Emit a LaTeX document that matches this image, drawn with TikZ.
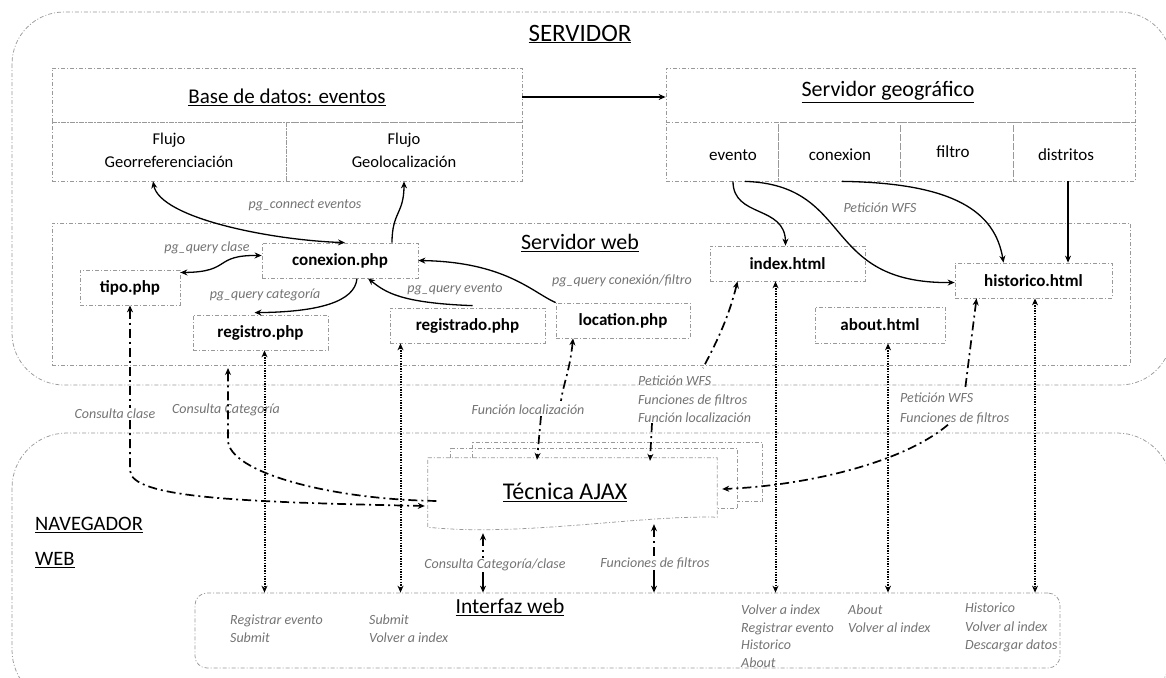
\documentclass[tikz,border=0pt]{standalone}
\usepackage{fontspec}
\setmainfont{Carlito}
\usetikzlibrary{arrows.meta}
\definecolor{framegray}{HTML}{999999}
\definecolor{notegray}{HTML}{737373}
\begin{document}
\begin{tikzpicture}[x=1pt,y=-1pt,
  >={Stealth[length=7pt,width=6pt]},
  frame/.style={draw=framegray,line width=0.75pt,dash pattern=on 4pt off 2pt on 1pt off 2pt},
  cellbox/.style={frame,inner sep=0pt},
  filebox/.style={frame,inner sep=0pt,minimum height=35pt,font=\fontsize{17}{20}\selectfont\bfseries},
  heading/.style={inner sep=1pt,font=\fontsize{22}{26}\selectfont},
  celltext/.style={inner sep=0pt,align=center,font=\fontsize{16.5}{23}\selectfont},
  note/.style={inner sep=1pt,text=notegray,font=\fontsize{14}{18}\selectfont\itshape},
  notes/.style={note,align=left,anchor=north west,inner sep=0pt},
  flow/.style={line width=1.3pt},
  call/.style={line width=1.7pt,dash pattern=on 9pt off 4pt on 2pt off 4pt},
  link/.style={line width=2pt,dash pattern=on 1.4pt off 1.2pt}
]
\useasboundingbox (0,0) rectangle (1166,677);

% outer zones
\draw[frame,rounded corners=52pt] (12,12) rectangle (1172,385);
\draw[frame,rounded corners=55pt] (12,433) rectangle (1172,705);
\node[heading,font=\fontsize{25}{28}\selectfont] (tserv) at (580,34) {\underline{SERVIDOR}};
\node[heading,align=left,anchor=north west,inner sep=0pt,font=\fontsize{20.5}{35}\selectfont] (tnav) at (35,517) {\underline{NAVEGADOR}\\\underline{WEB}};

% database
\node[cellbox,minimum width=470pt,minimum height=54pt] (bd) at (287,95) {};
\node[cellbox,minimum width=234pt,minimum height=59pt] (georef) at (169,151.5) {};
\node[cellbox,minimum width=236pt,minimum height=59pt] (geoloc) at (404,151.5) {};
\node[heading,font=\fontsize{21}{25}\selectfont] (tbd) at (287,97) {\underline{Base de datos: eventos}};
\node[celltext] (tgeoref) at (169,150) {Flujo\\Georreferenciación};
\node[celltext] (tgeoloc) at (404,150) {Flujo\\Geolocalización};

% geographic server
\node[cellbox,minimum width=469pt,minimum height=54pt] (sg) at (900.5,95) {};
\node[cellbox,minimum width=112pt,minimum height=59pt] (evento) at (722,151.5) {};
\node[cellbox,minimum width=122pt,minimum height=59pt] (geocon) at (839,151.5) {};
\node[cellbox,minimum width=113pt,minimum height=59pt] (filtro) at (956.5,151.5) {};
\node[cellbox,minimum width=122pt,minimum height=59pt] (distritos) at (1074,151.5) {};
\node[heading] (tsg) at (888,92) {\underline{Servidor geográfico}};
\node[celltext,font=\fontsize{17}{20}\selectfont] (tevento) at (733,155) {evento};
\node[celltext,font=\fontsize{17}{20}\selectfont] (tgeocon) at (840,155) {conexion};
\node[celltext,font=\fontsize{17}{20}\selectfont] (tfiltro) at (953,152) {filtro};
\node[celltext,font=\fontsize{17}{20}\selectfont] (tdistritos) at (1066,155) {distritos};

\draw[flow,line width=1.7pt,->] ([yshift=-2pt]bd.east) -- ([yshift=-2pt]sg.west);

% web server
\node[cellbox,minimum width=1078pt,minimum height=142pt] (ws) at (591,294) {};
\node[heading] (tws) at (580,243) {\underline{Servidor web}};
\node[filebox,minimum width=156pt] (conexion) at (340,260.5) {conexion.php};
\node[filebox,minimum width=100pt] (tipo) at (130,287.5) {tipo.php};
\node[filebox,minimum width=135pt] (registro) at (260.5,332.5) {registro.php};
\node[filebox,minimum width=155pt] (registrado) at (467.5,325.5) {registrado.php};
\node[filebox,minimum width=134pt] (location) at (623,320.5) {location.php};
\node[filebox,minimum width=155pt] (index) at (787.5,263.5) {index.html};
\node[filebox,minimum width=130pt,minimum height=36pt] (about) at (880,325) {about.html};
\node[filebox,minimum width=157pt] (historico) at (1033.5,280.5) {historico.html};

% AJAX stack
\node[inner sep=0pt,minimum width=289pt,minimum height=69pt] (ajax) at (572.5,492.5) {};
\node[heading,font=\fontsize{24}{28}\selectfont] (tajax) at (565,492) {\underline{Técnica AJAX}};
\draw[frame] ([xshift=45pt]ajax.north west) -- ++(0,-15) -- ++(290,0) -- ++(0,59) -- ++(-25,0);
\draw[frame] ([xshift=23pt]ajax.north west) -- ++(0,-9) -- ++(287,0) -- ++(0,60) -- ++(-21,0);
\draw[frame] (ajax.north west) -- (ajax.north east) -- ([yshift=10pt]ajax.south east)
  .. controls (640,515) and (520,537) .. (ajax.south west) -- cycle;

% web interface
\node[frame,rounded corners=12pt,minimum width=865pt,minimum height=75pt] (interfaz) at (627.5,630.5) {};
\node[heading,font=\fontsize{21.5}{25}\selectfont] (tinterfaz) at (510,607) {\underline{Interfaz web}};
\node[notes,font=\fontsize{14}{17.5}\selectfont\itshape] (it1) at (230,615) {Registrar evento\\Submit};
\node[notes,font=\fontsize{14}{17.5}\selectfont\itshape] (it2) at (369,615) {Submit\\Volver a index};
\node[notes,font=\fontsize{14}{17.5}\selectfont\itshape] (it3) at (741,605) {Volver a index\\Registrar evento\\Historico\\About};
\node[notes,font=\fontsize{14}{17.5}\selectfont\itshape] (it4) at (848,605) {About\\Volver al index};
\node[notes,font=\fontsize{14}{18.5}\selectfont\itshape] (it5) at (965,603) {Historico\\Volver al index\\Descargar datos};

% database and geoserver connections
\node[note] (lpgc) at (305,205) {pg\_connect eventos};
\draw[flow,<->] ([xshift=-16pt]georef.south) .. controls (160,218) and (270,240) .. ([xshift=5pt]conexion.north);
\draw[flow,->] ([xshift=52pt]conexion.north) .. controls (392,212) and (404,214) .. (geoloc.south);
\node[note] (lpgq1) at (207,248) {pg\_query clase};
\draw[flow,<->] ([yshift=15pt]tipo.east) .. controls (232,272) and (213,255) .. ([yshift=5pt]conexion.west);
\node[note] (lpgq2) at (265,295) {pg\_query categoría};
\draw[flow,->] ([xshift=17pt]conexion.south) .. controls (355,302) and (318,312) .. ([xshift=-6pt,yshift=2pt]registro.north);
\node[note] (lpgq3) at (455,289) {pg\_query evento};
\draw[flow,->] ([xshift=5pt,yshift=2pt]registrado.north) .. controls (400,303) and (385,292) .. ([xshift=28pt]conexion.south);
\node[note] (lpgq4) at (622,281) {pg\_query conexión/filtro};
\draw[flow,->] (location.north west) .. controls (532,292) and (505,262) .. (conexion.east);

\node[note] (lwfs) at (880,208) {Petición WFS};
\draw[flow,->] ([xshift=11pt]evento.south) .. controls (733,218) and (785,205) .. ([xshift=-2pt]index.north);
\draw[flow,->] ([xshift=23pt]evento.south) .. controls (855,185) and (820,284) .. ([yshift=-2pt]historico.west);
\draw[flow,->] ([xshift=3pt]geocon.south) .. controls (955,183) and (995,212) .. ([xshift=-30pt]historico.north);
\coordinate (dsrc) at ([xshift=-6pt]distritos.south);
\draw[flow,->] (dsrc) -- (dsrc |- historico.north);

% AJAX calls
\coordinate (ajL1) at ([xshift=-3pt,yshift=-13.5pt]ajax.west);
\coordinate (ajL2) at ([xshift=12pt,yshift=-8.5pt]ajax.west);
\coordinate (ajT1) at ([xshift=-35.5pt,yshift=-2pt]ajax.north);
\coordinate (ajT2) at ([xshift=77.5pt,yshift=-3pt]ajax.north);
\coordinate (ajR) at ([xshift=5pt,yshift=3.5pt]ajax.east);
\coordinate (ajB1) at ([xshift=-89.5pt,yshift=-6pt]ajax.south);
\coordinate (ajB2) at ([xshift=81.5pt,yshift=3pt]ajax.south);

\node[note] (lclase) at (115,414) {Consulta clase};
\draw[call,<-] (tipo.south) -- (tipo.south |- lclase.north);
\draw[call,->] (tipo.south |- lclase.south) -- ++(0,50) .. controls (130,498) and (240,502) .. (ajL1);

\node[note] (lcat) at (226,410) {Consulta Categoría};
\coordinate (cat) at (228,368);
\draw[call,<-] (cat) -- ++(0,72) .. controls (228,472) and (330,500) .. (ajL2);

\node[note] (lloc) at (528,410) {Función localización};
\draw[call,<-] ([xshift=-50pt]location.south) .. controls (570,370) and (563,385) .. ([xshift=33pt,yshift=3pt]lloc.north);
\draw[call,->] ([xshift=13pt]lloc.south) -- (ajT1);

\node[notes,font=\fontsize{14}{18.5}\selectfont\itshape] (lidx) at (638,376) {Petición WFS\\Funciones de filtros\\Función localización};
\draw[call,<-] ([xshift=-50pt]index.south) .. controls (728,320) and (715,345) .. ([xshift=65pt,yshift=8pt]lidx.north west);
\draw[call,->] ([xshift=14pt]lidx.south west) -- (ajT2);

\node[notes,font=\fontsize{14}{20}\selectfont\itshape] (lhis) at (900,393) {Petición WFS\\Funciones de filtros};
\draw[call,<-] ([xshift=-57pt]historico.south) -- ([xshift=65pt,yshift=3pt]lhis.north west);
\draw[call,->] ([xshift=48pt]lhis.south west) .. controls (900,465) and (800,486) .. (ajR);

\node[note] (lcc) at (495,565) {Consulta Categoría/clase};
\coordinate (cc) at ([xshift=-12pt]lcc.south);
\draw[call,<-] (ajB1) -- ([xshift=-12pt]lcc.north);
\draw[flow,->] (cc) -- (cc |- interfaz.north);

\node[note] (lff) at (655,563) {Funciones de filtros};
\coordinate (ff) at ([xshift=-1pt]lff.south);
\draw[call,<-] (ajB2) -- ([xshift=-1pt]lff.north);
\draw[flow,->] (ff) -- (ff |- interfaz.north);

% page links between server files and the interface
\coordinate (r1) at ([xshift=4pt]registro.south);
\coordinate (r2) at ([xshift=-67pt]registrado.south);
\coordinate (r3) at ([xshift=-12pt]index.south);
\coordinate (r4) at ([xshift=8pt]about.south);
\coordinate (r5) at ([xshift=1.5pt]historico.south);
\foreach \r in {r1,r2,r3,r4,r5}
  \draw[link,<->] (\r) -- (\r |- interfaz.north);
\end{tikzpicture}
\end{document}
